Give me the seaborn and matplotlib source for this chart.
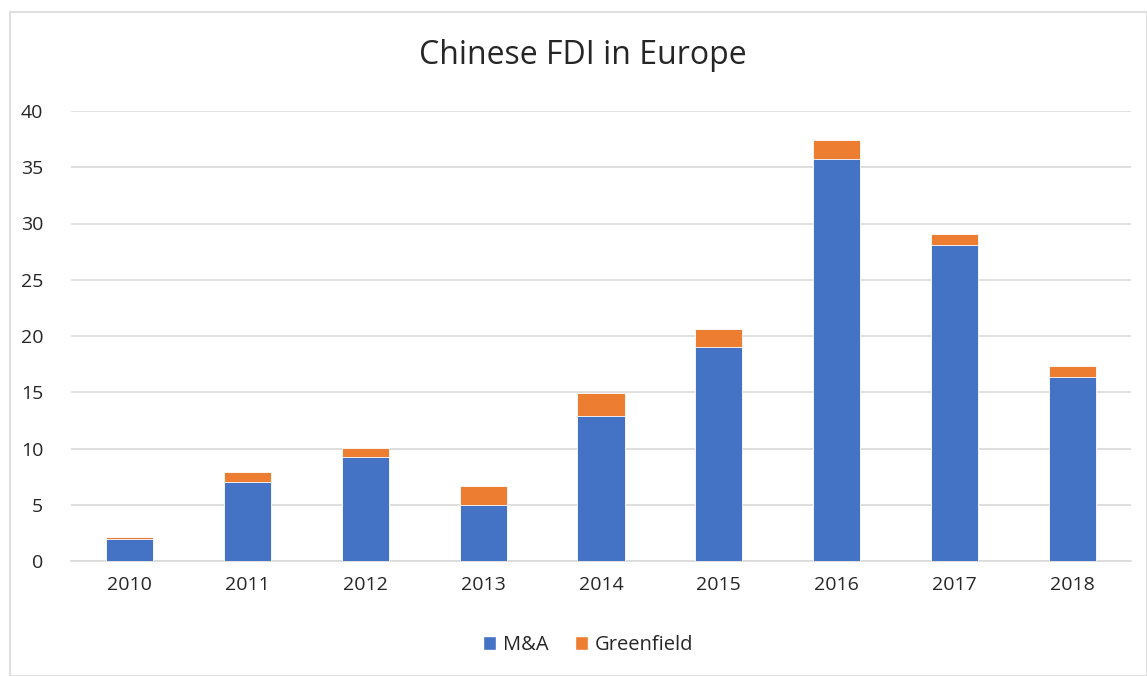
import matplotlib
matplotlib.use("Agg")
import matplotlib.pyplot as plt
import seaborn as sns
import pandas as pd
from matplotlib.patches import Rectangle, Patch

years = ["2010", "2011", "2012", "2013", "2014", "2015", "2016", "2017", "2018"]
mna = [1.95, 7.0, 9.25, 5.0, 12.9, 19.0, 35.7, 28.1, 16.35]
greenfield = [0.15, 0.9, 0.8, 1.7, 2.0, 1.6, 1.7, 1.0, 0.95]

BLUE = "#4472C4"
ORANGE = "#ED7D31"

df = pd.DataFrame({"year": years, "M&A": mna, "Greenfield": greenfield})
df["total"] = df["M&A"] + df["Greenfield"]

sns.set_theme(style="white")
plt.rcParams["font.family"] = ["Open Sans", "DejaVu Sans"]

W, H = 1147, 676
fig = plt.figure(figsize=(W / 100, H / 100), dpi=100)
ax = fig.add_axes([71 / W, 1 - 561 / H, (1131 - 71) / W, (561 - 111) / H])

# stacked bars: total drawn first, M&A on top of it
sns.barplot(data=df, x="year", y="total", color=ORANGE, width=0.4,
            saturation=1, ax=ax, edgecolor="white", linewidth=0.6, zorder=3)
sns.barplot(data=df, x="year", y="M&A", color=BLUE, width=0.4,
            saturation=1, ax=ax, edgecolor="white", linewidth=0.6, zorder=3)

ax.set_ylim(0, 40)
ax.set_yticks(range(0, 41, 5))
ax.set_xlim(-0.5, len(years) - 0.5)
ax.yaxis.grid(True, color="#D9D9D9", linewidth=1.2, zorder=0)
ax.set_axisbelow(True)
for s in ["top", "right", "left"]:
    ax.spines[s].set_visible(False)
ax.spines["bottom"].set_color("#D9D9D9")
ax.spines["bottom"].set_linewidth(1.2)
ax.set_xlabel("")
ax.set_ylabel("")
ax.tick_params(axis="both", length=0, labelsize=14, colors="#262626")
ax.tick_params(axis="y", pad=20)
ax.tick_params(axis="x", pad=11)

fig.text(583 / W, 1 - 56 / H, "Chinese FDI in Europe", ha="center", va="center",
         fontsize=23, color="#262626")

handles = [Patch(facecolor=BLUE, label="M&A"), Patch(facecolor=ORANGE, label="Greenfield")]
fig.legend(handles=handles, loc="center", bbox_to_anchor=(588 / W, 1 - 645 / H), ncol=2,
           frameon=False, fontsize=14.5, handlelength=0.65, handleheight=0.65,
           handletextpad=0.35, columnspacing=1.3, labelcolor="#262626")

# chart-area border
fig.patches.append(Rectangle((10 / W, 0), 1 - 10 / W, 1 - 12 / H, transform=fig.transFigure,
                             fill=False, edgecolor="#D9D9D9", linewidth=1.2))

fig.savefig("out.png", dpi=100, facecolor="white")
